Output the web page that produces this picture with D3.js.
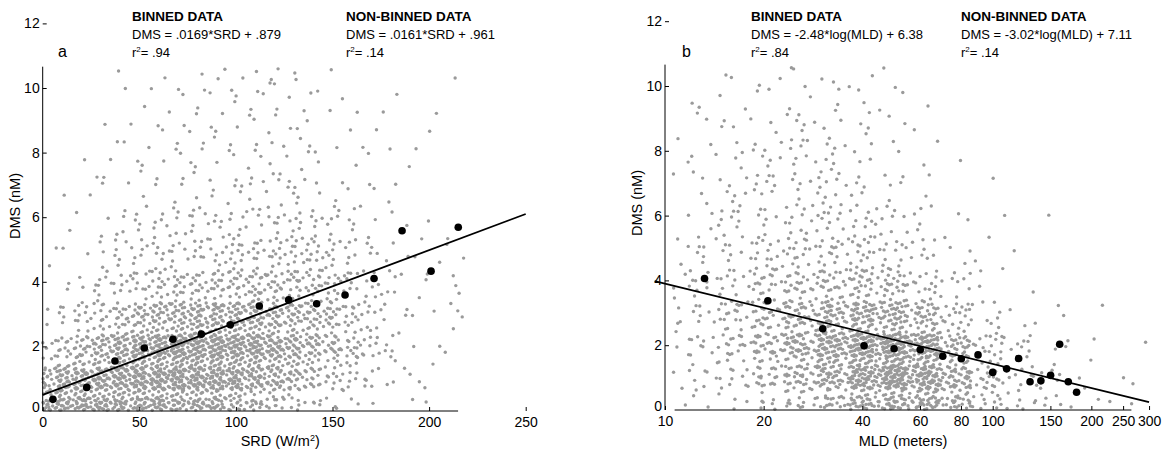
<!DOCTYPE html>
<html>
<head>
<meta charset="utf-8">
<script src="https://cdn.jsdelivr.net/npm/d3@7"></script>
<style>
  body { margin: 0; background: #fff; }
  svg { display: block; font-family: "Liberation Sans", Arial, Helvetica, sans-serif; }
</style>
</head>
<body>
<div id="chart"></div>
<script>
// ---- binned means (black dots) ----
const srdBinned  = [5.3, 22.8, 37.4, 52.6, 67.4, 82.1, 97.1, 112.1, 127.3, 141.8, 156.5, 171.5, 186, 201, 215.1];
const dmsBinnedA = [0.36, 0.73, 1.55, 1.95, 2.22, 2.38, 2.67, 3.25, 3.44, 3.32, 3.59, 4.10, 5.58, 4.33, 5.69];
const mldBinned  = [13.2, 20.6, 30.3, 40.5, 50, 60.1, 70.4, 80.2, 90.2, 100, 110.3, 120, 130, 140.3, 150.2, 160.1, 170.1, 180.3];
const dmsBinnedB = [4.06, 3.37, 2.51, 1.98, 1.89, 1.86, 1.66, 1.58, 1.70, 1.16, 1.27, 1.59, 0.87, 0.90, 1.07, 2.03, 0.87, 0.55];

// ---- regression lines (end points) ----
const fitSrd  = [0, 250];
const fitDmsA = [0.50, 6.10];
const fitMld  = [9.3, 300];
const fitDmsB = [3.98, 0.24];

// ---- ticks ----
const srdTicks = [0, 50, 100, 150, 200, 250];
const mldTicks = [10, 20, 40, 60, 80, 100, 150, 200, 250, 300];
const dmsTicks = [0, 2, 4, 6, 8, 10, 12];

// ---- raw data cloud, as counts of points per cell ----
// rows: DMS 0-1, 1-2, ... 9-10, 10-10.6
const dmsRowEdges = [0, 1, 2, 3, 4, 5, 6, 7, 8, 9, 10, 10.6];
// panel a: columns of SRD
const srdColEdges = [0, 10, 20, 30, 40, 50, 60, 70, 80, 90, 100, 110, 120, 130, 140, 150, 160, 170, 180, 190, 200, 210, 218];
const countsA = [
  [54, 16, 6, 2, 1, 1, 0, 0, 0, 0, 0],
  [64, 28, 11, 3, 1, 1, 0, 1, 0, 0, 0],
  [62, 42, 15, 7, 3, 2, 1, 1, 1, 0, 0],
  [60, 54, 22, 9, 5, 5, 1, 2, 1, 1, 1],
  [58, 66, 30, 13, 7, 6, 2, 2, 1, 1, 1],
  [56, 76, 38, 16, 8, 7, 2, 3, 2, 1, 1],
  [52, 80, 45, 18, 9, 7, 3, 3, 2, 2, 0],
  [48, 80, 48, 20, 9, 8, 3, 2, 2, 2, 1],
  [46, 80, 50, 22, 10, 8, 4, 3, 2, 2, 3],
  [40, 78, 50, 22, 10, 8, 4, 3, 3, 2, 1],
  [32, 70, 50, 25, 12, 9, 4, 3, 3, 3, 2],
  [22, 58, 44, 25, 13, 9, 5, 4, 3, 3, 2],
  [16, 48, 40, 23, 13, 9, 5, 4, 3, 2, 3],
  [10, 36, 32, 21, 13, 9, 5, 4, 3, 2, 1],
  [6, 25, 27, 18, 12, 8, 4, 2, 1, 1, 0],
  [4, 18, 20, 14, 9, 6, 2, 2, 1, 2, 1],
  [3, 12, 13, 9, 7, 4, 2, 1, 2, 1, 0],
  [2, 6, 8, 5, 5, 3, 1, 1, 1, 1, 0],
  [2, 3, 3, 2, 2, 2, 1, 1, 1, 0, 0],
  [1, 2, 2, 2, 1, 1, 0, 1, 1, 0, 0],
  [1, 1, 2, 3, 2, 1, 0, 0, 1, 0, 0],
  [0, 0, 1, 3, 2, 1, 0, 0, 0, 1, 0]
];
// panel b: columns of MLD (log spaced)
const mldColEdges = [10.5, 12.6, 15.8, 20, 25.1, 31.6, 39.8, 50.1, 63.1, 79.4, 100, 125.9, 158.5, 199.5, 251.2, 295];
const countsB = [
  [2, 4, 7, 6, 4, 3, 1, 1, 2, 0, 0],
  [6, 12, 13, 12, 9, 7, 6, 5, 3, 4, 0],
  [10, 24, 24, 17, 13, 10, 8, 7, 5, 3, 2],
  [16, 42, 40, 24, 18, 12, 8, 8, 6, 3, 2],
  [26, 62, 54, 30, 20, 13, 10, 9, 6, 5, 3],
  [45, 95, 68, 36, 22, 14, 9, 8, 6, 4, 2],
  [72, 125, 78, 38, 18, 10, 7, 5, 3, 3, 1],
  [85, 120, 66, 28, 14, 8, 4, 2, 1, 2, 1],
  [58, 78, 40, 14, 7, 4, 2, 0, 0, 0, 0],
  [30, 34, 14, 5, 3, 1, 1, 1, 0, 0, 0],
  [15, 14, 7, 2, 1, 0, 1, 0, 0, 0, 0],
  [8, 8, 3, 1, 0, 1, 0, 0, 0, 0, 0],
  [5, 4, 1, 0, 0, 0, 0, 0, 0, 0, 0],
  [2, 2, 0, 0, 0, 0, 0, 0, 0, 0, 0],
  [1, 1, 0, 0, 0, 0, 0, 0, 0, 0, 0]
];

const W = 1166, H = 452;
const svg = d3.select("#chart").append("svg")
    .attr("width", W)
    .attr("height", H);
svg.append("rect").attr("width", W).attr("height", H).attr("fill", "#fff");

const GRAY = "#9a9a9a";

// fold a value back inside [lo, hi]
function fold(t, lo, hi) {
    if (t < lo) t = 2 * lo - t;
    if (t > hi) t = 2 * hi - t;
    return t;
}

// spread the counted points of each cell over (a bit more than) the cell,
// using a quasi random R2 sequence, so that cell borders do not show
function cloud(counts, colEdges, x) {
    const pts = [];
    const pxLo = x(colEdges[0]), pxHi = x(colEdges[colEdges.length - 1]);
    const vHi = dmsRowEdges[dmsRowEdges.length - 1];
    counts.forEach((col, ci) => {
        col.forEach((n, ri) => {
            const x0 = x(colEdges[ci]), x1 = x(colEdges[ci + 1]);
            const v0 = dmsRowEdges[ri], v1 = dmsRowEdges[ri + 1];
            const s1 = (ci * 0.6180339 + ri * 0.4142135) % 1;
            const s2 = (ci * 0.3247179 + ri * 0.7320508) % 1;
            for (let k = 0; k < n; k++) {
                const u = -0.35 + 1.7 * ((s1 + (k + 1) * 0.7548776662) % 1);
                const w = -0.35 + 1.7 * ((s2 + (k + 1) * 0.5698402910) % 1);
                pts.push({
                    px: fold(x0 + u * (x1 - x0), pxLo, pxHi),
                    v: fold(v0 + w * (v1 - v0), 0.02, vHi)
                });
            }
        });
    });
    return pts;
}

function panel(o) {
    const g = svg.append("g");
    const x = o.x, y = o.y;

    // gray cloud
    g.append("g").selectAll("circle")
        .data(cloud(o.counts, o.colEdges, x))
        .join("circle")
        .attr("cx", d => d.px)
        .attr("cy", d => y(d.v))
        .attr("r", 1.7)
        .attr("fill", GRAY);

    // fit line
    g.append("line")
        .attr("x1", x(o.fitX[0])).attr("y1", y(o.fitY[0]))
        .attr("x2", x(o.fitX[1])).attr("y2", y(o.fitY[1]))
        .attr("stroke", "#000")
        .attr("stroke-width", 1.8);

    // binned means
    g.append("g").selectAll("circle")
        .data(o.binX.map((b, i) => [b, o.binY[i]]))
        .join("circle")
        .attr("cx", d => x(d[0]))
        .attr("cy", d => y(d[1]))
        .attr("r", 3.8)
        .attr("fill", "#000");

    // axes (ticks inside, domain drawn only over the data range)
    const y0 = y(0), xl = x(o.xTicks[0]);
    const ax = g.append("g")
        .attr("transform", `translate(0,${y0})`)
        .call(d3.axisBottom(x).tickValues(o.xTicks).tickFormat(d3.format("d"))
            .tickSizeInner(-4).tickSizeOuter(0).tickPadding(6));
    const ay = g.append("g")
        .attr("transform", `translate(${xl},0)`)
        .call(d3.axisLeft(y).tickValues(dmsTicks).tickFormat(d3.format("d"))
            .tickSizeInner(-4).tickSizeOuter(0).tickPadding(3));
    [ax, ay].forEach(a => {
        a.select(".domain").remove();
        a.selectAll("text").attr("font-size", 14).attr("font-family", null).attr("fill", "#000");
        a.selectAll("line").attr("stroke", "#000");
    });
    ay.selectAll(".tick").filter(d => d === 0).select("line").remove();
    ay.selectAll(".tick").filter(d => d === 0).select("text").attr("dy", "0.05em");

    g.append("line")
        .attr("x1", x(o.xLine[0])).attr("x2", x(o.xLine[1]))
        .attr("y1", y0).attr("y2", y0)
        .attr("stroke", "#000").attr("stroke-width", 1);
    g.append("line")
        .attr("x1", xl).attr("x2", xl)
        .attr("y1", y0).attr("y2", y(10.66))
        .attr("stroke", "#000").attr("stroke-width", 1);

    // axis titles
    const xMid = (x(o.xTicks[0]) + x(o.xTicks[o.xTicks.length - 1])) / 2;
    const xt = g.append("text")
        .attr("x", xMid + o.xTitleShift).attr("y", 446)
        .attr("text-anchor", "middle")
        .attr("font-size", 14.5);
    o.xTitle(xt);

    g.append("text")
        .attr("transform", `translate(${o.yTitleX},${o.yTitleY}) rotate(-90)`)
        .attr("text-anchor", "middle")
        .attr("font-size", 14.5)
        .text("DMS (nM)");

    // panel letter
    g.append("text")
        .attr("x", o.letterX).attr("y", 57)
        .attr("font-size", 16)
        .text(o.letter);

    // equations
    [[o.textX1, "BINNED DATA", o.eq1, o.r1], [o.textX2, "NON-BINNED DATA", o.eq2, o.r2]].forEach(t => {
        g.append("text").attr("x", t[0]).attr("y", 21)
            .attr("font-size", 13.5).attr("font-weight", "bold").text(t[1]);
        g.append("text").attr("x", t[0]).attr("y", 39)
            .attr("font-size", 13).text(t[2]);
        const r = g.append("text").attr("x", t[0]).attr("y", 57).attr("font-size", 13);
        r.append("tspan").text("r");
        r.append("tspan").attr("dy", -5).attr("font-size", 8).text("2");
        r.append("tspan").attr("dy", 5).text("= " + t[3]);
    });
}

// panel a
const xA = d3.scaleLinear().domain([0, 250]).range([42.7, 525.7]);
const yA = d3.scaleLinear().domain([0, 12]).range([411, 411 - 12 * 32.3]);
panel({
    x: xA, y: yA, counts: countsA, colEdges: srdColEdges,
    fitX: fitSrd, fitY: fitDmsA, binX: srdBinned, binY: dmsBinnedA,
    xTicks: srdTicks, xLine: [0, 215],
    xTitle: t => {
        t.append("tspan").text("SRD (W/m");
        t.append("tspan").attr("dy", -5).attr("font-size", 9).text("2");
        t.append("tspan").attr("dy", 5).text(")");
    },
    xTitleShift: -4,
    yTitleX: 20, yTitleY: 206,
    letter: "a", letterX: 58,
    textX1: 132, textX2: 346,
    eq1: "DMS = .0169*SRD + .879", r1: ".94",
    eq2: "DMS = .0161*SRD + .961", r2: ".14"
});

// panel b
const xB = d3.scaleLog().domain([10, 300]).range([665, 665 + 327.7 * Math.log10(30)]);
const yB = d3.scaleLinear().domain([0, 12]).range([410, 410 - 12 * 32.4]);
panel({
    x: xB, y: yB, counts: countsB, colEdges: mldColEdges,
    fitX: fitMld, fitY: fitDmsB, binX: mldBinned, binY: dmsBinnedB,
    xTicks: mldTicks, xLine: [10.7, 265],
    xTitle: t => t.text("MLD (meters)"),
    xTitleShift: -4,
    yTitleX: 642, yTitleY: 203,
    letter: "b", letterX: 682,
    textX1: 751, textX2: 961,
    eq1: "DMS = -2.48*log(MLD) + 6.38", r1: ".84",
    eq2: "DMS = -3.02*log(MLD) + 7.11", r2: ".14"
});
</script>
</body>
</html>
